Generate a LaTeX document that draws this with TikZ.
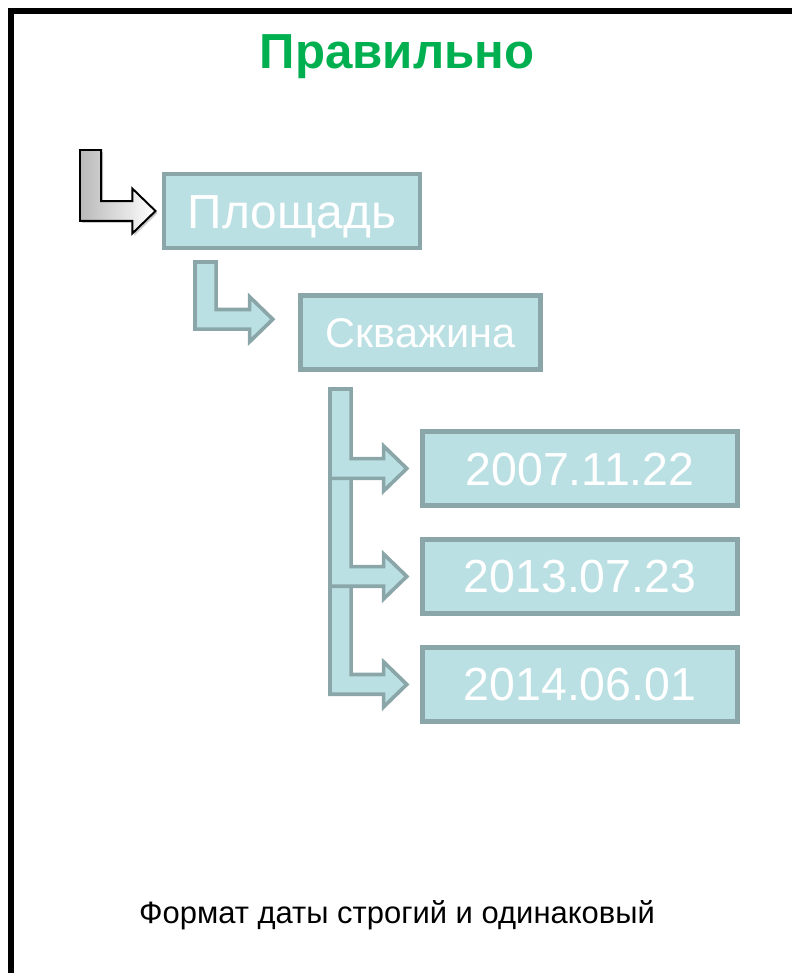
\documentclass[tikz,border=0pt]{standalone}
\usepackage{fontspec}
\setmainfont{Liberation Sans}
\usetikzlibrary{positioning,shadows,calc}

\definecolor{boxfill}{RGB}{187,224,227}
\definecolor{boxline}{RGB}{139,166,168}
\definecolor{titlegreen}{RGB}{0,176,80}

% bent arrow: style, top-left start, tip
\newcommand{\bentarrow}[3]{%
  \draw[#1] let \p1=(#2), \p2=(#3) in
    (\x1,\y1) -- (\x1+15pt,\y1) -- (\x1+15pt,\y2+7pt) -- (\x2-16.5pt,\y2+7pt)
    -- (\x2-16.5pt,\y2+16pt) -- (\x2,\y2) -- (\x2-16.5pt,\y2-16pt)
    -- (\x2-16.5pt,\y2-7pt) -- (\x1,\y2-7pt) -- cycle;}

\begin{document}
\begin{tikzpicture}[x=0.025cm, y=-0.025cm,
    lvl box/.style={draw=boxline, fill=boxfill, line width=3.5pt, text=white,
      minimum height=1.85cm, text depth=0pt, inner sep=0pt},
    date box/.style={lvl box, minimum width=7.875cm, text height=23.5pt,
      font=\fontsize{33}{38}\selectfont},
    gray arrow/.style={draw=black, line width=1.4pt, left color=gray!55, right color=white,
      line join=miter, drop shadow={shadow xshift=1.5pt, shadow yshift=-1.5pt, opacity=0.4}},
    teal arrow/.style={draw=boxline, fill=boxfill, line width=2.6pt, line join=miter}]

  \useasboundingbox (0,0) rectangle (792,973);
  \draw[line width=3.8pt] (11,973) -- (11,11) -- (792,11);

  \node[anchor=base, text=titlegreen, font=\bfseries\fontsize{35}{42}\selectfont] (ttl) at (397,68) {Правильно};

  \node[lvl box, minimum width=6.4cm, text height=24.3pt, font=\fontsize{34}{40}\selectfont] (plo) at (292,211) {Площадь};
  \node[lvl box, minimum width=6cm, text height=21pt, font=\fontsize{29.5}{35}\selectfont] (skv) at (420.5,332.5) {Скважина};
  \node[date box] (d1) at (580,468.5) {2007.11.22};
  \node[date box, below=0.725cm of d1] (d2) {2013.07.23};
  \node[date box, below=0.725cm of d2] (d3) {2014.06.01};

  \coordinate (s0) at (80,150);
  \coordinate (s1) at (195,262);
  \coordinate (s2) at (330,389);

  \bentarrow{gray arrow}{s0}{[xshift=-0.15cm]plo.west}
  \bentarrow{teal arrow}{s1}{[xshift=-0.63cm, yshift=0.33cm]skv.west}
  \bentarrow{teal arrow}{s2}{[xshift=-0.33cm]d3.west}
  \bentarrow{teal arrow}{s2}{[xshift=-0.33cm]d2.west}
  \bentarrow{teal arrow}{s2}{[xshift=-0.33cm]d1.west}

  \node[anchor=base, font=\fontsize{22}{26}\selectfont] (note) at (397,923) {Формат даты строгий и одинаковый};
\end{tikzpicture}
\end{document}
